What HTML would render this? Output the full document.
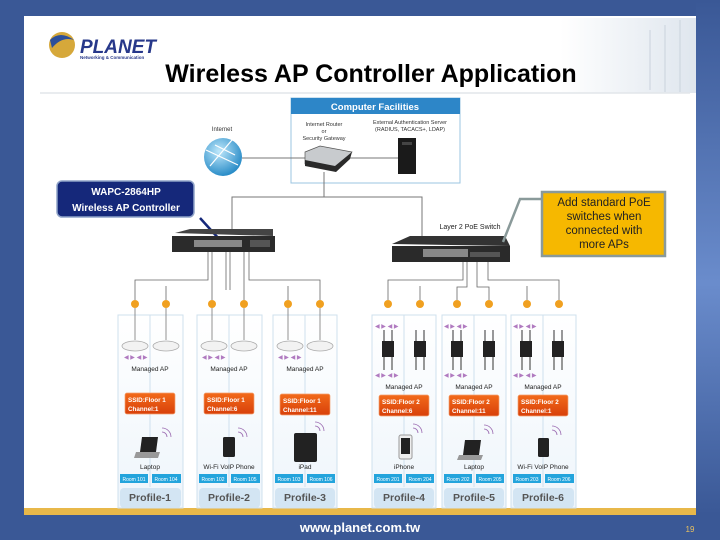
<!DOCTYPE html>
<html><head><meta charset="utf-8"><style>
html,body{margin:0;padding:0;width:720px;height:540px;overflow:hidden;background:#3a5896}
svg{display:block}
text{font-family:"Liberation Sans",sans-serif}
</style></head><body>
<svg width="720" height="540" viewBox="0 0 720 540" xmlns="http://www.w3.org/2000/svg">
<defs>
<linearGradient id="bg" x1="0" y1="0" x2="0" y2="1"><stop offset="0" stop-color="#3a5896"/><stop offset="0.55" stop-color="#6a8ccc"/><stop offset="1" stop-color="#3a5896"/></linearGradient>
<linearGradient id="org" x1="0" y1="0" x2="0" y2="1"><stop offset="0" stop-color="#f26a1a"/><stop offset="1" stop-color="#d8400a"/></linearGradient>
<radialGradient id="glb" cx="0.4" cy="0.35" r="0.7"><stop offset="0" stop-color="#bfe8fb"/><stop offset="1" stop-color="#1f86c4"/></radialGradient>
<linearGradient id="col" x1="0" y1="0" x2="0" y2="1"><stop offset="0" stop-color="#ffffff"/><stop offset="1" stop-color="#eef5fb"/></linearGradient>
<linearGradient id="srv" x1="0" y1="0" x2="1" y2="0"><stop offset="0" stop-color="#ffffff"/><stop offset="1" stop-color="#dfe6ee"/></linearGradient>
</defs>
<rect x="696" y="0" width="24" height="515" fill="url(#bg)"/>
<rect x="24" y="16" width="672" height="492" fill="#fff"/>
<rect x="24" y="508" width="672" height="7" fill="#e8b84a"/>
<rect x="560" y="18" width="136" height="75" fill="url(#srv)"/>
<g stroke="#c9d2dc" stroke-width="1"><line x1="650" y1="30" x2="650" y2="90"/><line x1="665" y1="25" x2="665" y2="92"/><line x1="680" y1="20" x2="680" y2="92"/></g>
<line x1="40" y1="93" x2="690" y2="93" stroke="#e2e6ea" stroke-width="1.5"/>
<circle cx="62" cy="45" r="13" fill="#d6a83a"/>
<path d="M50,40 Q60,30 74,40 Q62,36 52,48 Z" fill="#2c4f9a"/>
<text x="80" y="53" font-size="19" font-weight="bold" fill="#27388a" font-style="italic">PLANET</text>
<text x="80" y="59" font-size="4.5" font-weight="bold" fill="#27388a">Networking &amp; Communication</text>
<text x="371" y="82" font-size="25" font-weight="bold" text-anchor="middle" fill="#000">Wireless AP Controller Application</text>
<rect x="291" y="98" width="169" height="85" fill="#fff" stroke="#9bc4e0" stroke-width="1"/>
<rect x="291" y="98" width="169" height="16" fill="#2d86c8"/>
<text x="375" y="110" font-size="9.5" font-weight="bold" fill="#fff" text-anchor="middle">Computer Facilities</text>
<text x="324" y="126" font-size="5.5" fill="#333" text-anchor="middle">Internet Router</text>
<text x="324" y="133" font-size="5.5" fill="#333" text-anchor="middle">or</text>
<text x="324" y="140" font-size="5.5" fill="#333" text-anchor="middle">Security Gateway</text>
<text x="410" y="124" font-size="5.5" fill="#333" text-anchor="middle">External Authentication Server</text>
<text x="410" y="131" font-size="5.5" fill="#333" text-anchor="middle">(RADIUS, TACACS+, LDAP)</text>
<text x="222" y="131" font-size="6" fill="#333" text-anchor="middle">Internet</text>
<circle cx="223" cy="157" r="19" fill="url(#glb)"/>
<path d="M206,150 L238,165 M210,166 L232,140 M215,145 L235,155" stroke="#fff" stroke-width="1.2" fill="none"/>
<line x1="242" y1="158" x2="310" y2="158" stroke="#777"/>
<line x1="345" y1="158" x2="398" y2="158" stroke="#777"/>
<path d="M305,152 L320,146 L352,152 L338,168 L305,164 Z" fill="#c8cbce" stroke="#555" stroke-width="0.7"/>
<path d="M305,160 L335,166 L352,152 L350,159 L336,172 L305,166 Z" fill="#2a2a2a"/>
<rect x="398" y="138" width="18" height="36" fill="#1a1a1a"/>
<rect x="402" y="142" width="10" height="3" fill="#444"/>
<path d="M324,172 L324,197 L422,197 L422,236" stroke="#777" fill="none"/>
<path d="M324,197 L232,197 L232,233" stroke="#777" fill="none"/>
<rect x="57" y="181" width="137" height="36" rx="5" fill="#15287a" stroke="#8fa3c8" stroke-width="1.5"/>
<text x="126" y="195" font-size="10" font-weight="bold" fill="#fff" text-anchor="middle">WAPC-2864HP</text>
<text x="126" y="211" font-size="10" font-weight="bold" fill="#fff" text-anchor="middle">Wireless AP Controller</text>
<line x1="200" y1="218" x2="220" y2="240" stroke="#15287a" stroke-width="2.5"/>
<path d="M175,233 L190,229 L273,229 L273,236 Z" fill="#444"/>
<rect x="172" y="236" width="103" height="16" fill="#2b2b2b"/>
<rect x="194" y="240" width="48" height="7" fill="#888"/>
<rect x="250" y="240" width="20" height="7" fill="#555"/>
<text x="470" y="229" font-size="7" fill="#222" text-anchor="middle">Layer 2 PoE Switch</text>
<path d="M392,244 L410,236 L505,236 L510,246 Z" fill="#333"/>
<rect x="392" y="246" width="118" height="16" fill="#2a2a2a"/>
<rect x="423" y="249" width="45" height="8" fill="#888"/>
<rect x="470" y="252" width="30" height="5" fill="#555"/>
<path d="M541,199 L520,199 L503,242" stroke="#8a9a9a" stroke-width="2.5" fill="none"/>
<rect x="542" y="192" width="123" height="64" fill="#f6b800" stroke="#8a9a9a" stroke-width="2.5"/>
<text font-size="11.5" fill="#222" text-anchor="middle"><tspan x="604" y="206">Add standard PoE</tspan><tspan x="604" y="220">switches when</tspan><tspan x="604" y="234">connected with</tspan><tspan x="604" y="248">more APs</tspan></text>
<g stroke="#666" fill="none" stroke-width="0.8">
<path d="M208,252 L208,280 L135,280 L135,300"/>
<path d="M166,286 L166,300"/>
<path d="M212,252 L212,300"/>
<path d="M226,252 L226,290"/><path d="M230,252 L230,290"/>
<path d="M244,252 L244,300"/>
<path d="M249,252 L249,280 L320,280 L320,300"/>
<path d="M288,286 L288,300"/>
<path d="M463,262 L463,280 L388,280 L388,300"/>
<path d="M420,286 L420,300"/>
<path d="M467,262 L467,287 L457,287 L457,300"/>
<path d="M477,262 L477,287 L489,287 L489,300"/>
<path d="M488,262 L488,280 L559,280 L559,300"/>
<path d="M527,286 L527,300"/>
</g>
<g fill="#f0a020">
<circle cx="135" cy="304" r="4"/><circle cx="166" cy="304" r="4"/>
<circle cx="212" cy="304" r="4"/><circle cx="244" cy="304" r="4"/>
<circle cx="288" cy="304" r="4"/><circle cx="320" cy="304" r="4"/>
<circle cx="388" cy="304" r="4"/><circle cx="420" cy="304" r="4"/>
<circle cx="457" cy="304" r="4"/><circle cx="489" cy="304" r="4"/>
<circle cx="527" cy="304" r="4"/><circle cx="559" cy="304" r="4"/>
</g>
<g stroke="#cfe0ee" stroke-width="1" fill="url(#col)">
<rect x="118" y="315" width="65" height="193"/>
<rect x="197" y="315" width="65" height="193"/>
<rect x="273" y="315" width="64" height="193"/>
<rect x="372" y="315" width="64" height="193"/>
<rect x="442" y="315" width="64" height="193"/>
<rect x="511" y="315" width="65" height="193"/>
</g>
<g stroke="#cfe0ee">
<line x1="150" y1="315" x2="150" y2="487"/><line x1="229" y1="315" x2="229" y2="487"/>
<line x1="305" y1="315" x2="305" y2="487"/><line x1="404" y1="315" x2="404" y2="487"/>
<line x1="474" y1="315" x2="474" y2="487"/><line x1="543" y1="315" x2="543" y2="487"/>
</g>
<g stroke="#777" stroke-width="0.8">
<line x1="135" y1="308" x2="135" y2="340"/><line x1="166" y1="308" x2="166" y2="340"/>
<line x1="212" y1="308" x2="212" y2="340"/><line x1="244" y1="308" x2="244" y2="340"/>
<line x1="288" y1="308" x2="288" y2="340"/><line x1="320" y1="308" x2="320" y2="340"/>
</g>
<g fill="#f2f2f2" stroke="#aaa" stroke-width="0.8">
<ellipse cx="135" cy="346" rx="13" ry="5"/><ellipse cx="166" cy="346" rx="13" ry="5"/>
<ellipse cx="214" cy="346" rx="13" ry="5"/><ellipse cx="244" cy="346" rx="13" ry="5"/>
<ellipse cx="290" cy="346" rx="13" ry="5"/><ellipse cx="320" cy="346" rx="13" ry="5"/>
</g>
<g fill="#b07ac0" font-size="6" font-family="DejaVu Sans">
<text x="124" y="359">◀ ▶ ◀ ▶</text>
<text x="202" y="359">◀ ▶ ◀ ▶</text><text x="278" y="359">◀ ▶ ◀ ▶</text>
</g>
<g stroke="#333" stroke-width="1">
<path d="M384,330 L384,370 M392,330 L392,370 M416,330 L416,370 M424,330 L424,370"/>
<path d="M453,330 L453,370 M461,330 L461,370 M485,330 L485,370 M493,330 L493,370"/>
<path d="M522,330 L522,370 M530,330 L530,370 M554,330 L554,370 M562,330 L562,370"/>
</g>
<g fill="#222">
<rect x="382" y="341" width="12" height="16"/><rect x="414" y="341" width="12" height="16"/>
<rect x="451" y="341" width="12" height="16"/><rect x="483" y="341" width="12" height="16"/>
<rect x="520" y="341" width="12" height="16"/><rect x="552" y="341" width="12" height="16"/>
</g>
<g fill="#b07ac0" font-size="6" font-family="DejaVu Sans">
<text x="375" y="328">◀ ▶ ◀ ▶</text><text x="375" y="377">◀ ▶ ◀ ▶</text>
<text x="444" y="328">◀ ▶ ◀ ▶</text><text x="444" y="377">◀ ▶ ◀ ▶</text>
<text x="513" y="328">◀ ▶ ◀ ▶</text><text x="513" y="377">◀ ▶ ◀ ▶</text>
</g>
<g font-size="6.5" fill="#222" text-anchor="middle">
<text x="150" y="371">Managed AP</text><text x="229" y="371">Managed AP</text><text x="305" y="371">Managed AP</text>
<text x="404" y="389">Managed AP</text><text x="474" y="389">Managed AP</text><text x="543" y="389">Managed AP</text>
</g>
<g fill="url(#org)" stroke="#f3a070" stroke-width="0.7">
<rect x="125" y="393" width="50" height="21" rx="2"/><rect x="204" y="393" width="50" height="21" rx="2"/>
<rect x="280" y="394" width="50" height="21" rx="2"/><rect x="379" y="395" width="50" height="21" rx="2"/>
<rect x="449" y="395" width="50" height="21" rx="2"/><rect x="518" y="395" width="50" height="21" rx="2"/>
</g>
<g font-size="6.3" font-weight="bold" fill="#fff">
<text x="128" y="402">SSID:Floor 1</text><text x="128" y="411">Channel:1</text>
<text x="207" y="402">SSID:Floor 1</text><text x="207" y="411">Channel:6</text>
<text x="283" y="403">SSID:Floor 1</text><text x="283" y="412">Channel:11</text>
<text x="382" y="404">SSID:Floor 2</text><text x="382" y="413">Channel:6</text>
<text x="452" y="404">SSID:Floor 2</text><text x="452" y="413">Channel:11</text>
<text x="521" y="404">SSID:Floor 2</text><text x="521" y="413">Channel:1</text>
</g>
<path d="M142,437 L158,437 L156,452 L140,452 Z" fill="#222"/><path d="M136,452 L160,452 L158,458 L134,458 Z" fill="#999"/>
<rect x="223" y="437" width="12" height="20" rx="1.5" fill="#222"/>
<rect x="294" y="433" width="23" height="29" rx="2" fill="#222"/>
<rect x="399" y="435" width="13" height="24" rx="2" fill="#eee" stroke="#999"/><rect x="401" y="438" width="9" height="16" fill="#222"/>
<path d="M465,440 L481,440 L479,455 L463,455 Z" fill="#222"/><path d="M459,455 L483,455 L481,460 L457,460 Z" fill="#999"/>
<rect x="538" y="438" width="11" height="19" rx="1.5" fill="#222"/>
<g fill="none" stroke="#9a6ab0" stroke-width="0.8">
<path d="M162,432 a5,5 0 0 1 5,5 M162,428 a9,9 0 0 1 9,9"/>
<path d="M238,432 a5,5 0 0 1 5,5 M238,428 a9,9 0 0 1 9,9"/>
<path d="M315,426 a5,5 0 0 1 5,5 M315,422 a9,9 0 0 1 9,9"/>
<path d="M413,428 a5,5 0 0 1 5,5 M413,424 a9,9 0 0 1 9,9"/>
<path d="M484,429 a5,5 0 0 1 5,5 M484,425 a9,9 0 0 1 9,9"/>
<path d="M552,430 a5,5 0 0 1 5,5 M552,426 a9,9 0 0 1 9,9"/>
</g>
<g font-size="6.5" fill="#222" text-anchor="middle">
<text x="150" y="469">Laptop</text><text x="229" y="469">Wi-Fi VoIP Phone</text><text x="305" y="469">iPad</text>
<text x="404" y="469">iPhone</text><text x="474" y="469">Laptop</text><text x="543" y="469">Wi-Fi VoIP Phone</text>
</g>
<g fill="#23a4dc">
<rect x="120" y="474" width="28" height="9"/><rect x="152" y="474" width="29" height="9"/>
<rect x="199" y="474" width="28" height="9"/><rect x="231" y="474" width="29" height="9"/>
<rect x="275" y="474" width="28" height="9"/><rect x="307" y="474" width="28" height="9"/>
<rect x="374" y="474" width="28" height="9"/><rect x="406" y="474" width="28" height="9"/>
<rect x="444" y="474" width="28" height="9"/><rect x="476" y="474" width="28" height="9"/>
<rect x="513" y="474" width="28" height="9"/><rect x="545" y="474" width="29" height="9"/>
</g>
<g font-size="5" fill="#fff" text-anchor="middle">
<text x="134" y="481">Room 101</text><text x="166" y="481">Room 104</text>
<text x="213" y="481">Room 102</text><text x="245" y="481">Room 105</text>
<text x="289" y="481">Room 103</text><text x="321" y="481">Room 106</text>
<text x="388" y="481">Room 201</text><text x="420" y="481">Room 204</text>
<text x="458" y="481">Room 202</text><text x="490" y="481">Room 205</text>
<text x="527" y="481">Room 203</text><text x="559" y="481">Room 206</text>
</g>
<g fill="#d3e5f3">
<rect x="120" y="488" width="61" height="20" rx="4"/><rect x="199" y="488" width="61" height="20" rx="4"/>
<rect x="275" y="488" width="60" height="20" rx="4"/><rect x="374" y="488" width="60" height="20" rx="4"/>
<rect x="444" y="488" width="60" height="20" rx="4"/><rect x="513" y="488" width="61" height="20" rx="4"/>
</g>
<g font-size="10.5" font-weight="bold" fill="#555" text-anchor="middle">
<text x="150" y="501">Profile-1</text><text x="229" y="501">Profile-2</text><text x="305" y="501">Profile-3</text>
<text x="404" y="501">Profile-4</text><text x="474" y="501">Profile-5</text><text x="543" y="501">Profile-6</text>
</g>
<text x="360" y="532" font-size="13" font-weight="bold" fill="#fff" text-anchor="middle">www.planet.com.tw</text>
<text x="690" y="532" font-size="8" fill="#e8c060" text-anchor="middle">19</text>
</svg>
</body></html>
